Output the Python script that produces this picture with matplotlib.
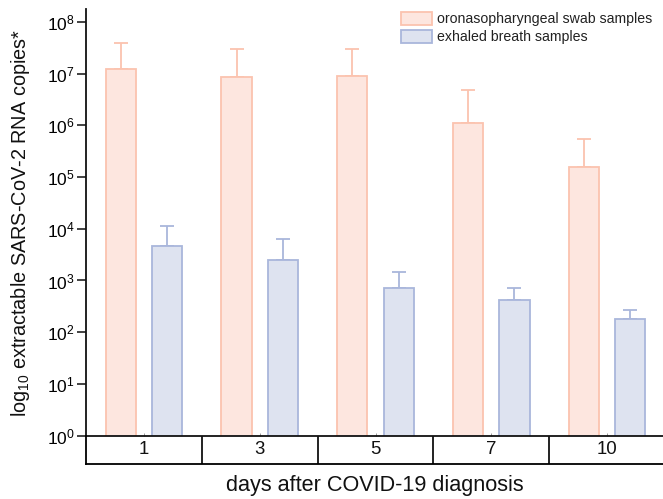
import matplotlib
matplotlib.use("Agg")
import matplotlib.pyplot as plt
import numpy as np
from matplotlib.patches import Patch

plt.rcParams['font.family'] = ['Liberation Sans', 'DejaVu Sans']
plt.rcParams['mathtext.fontset'] = 'custom'
plt.rcParams['mathtext.rm'] = 'Liberation Sans'
plt.rcParams['mathtext.it'] = 'Liberation Sans:italic'
plt.rcParams['mathtext.bf'] = 'Liberation Sans:bold'

days = ['1', '3', '5', '7', '10']
swab = [1.23e7, 8.7e6, 9.1e6, 1.13e6, 1.59e5]
swab_err_top = [4.0e7, 2.96e7, 3.0e7, 4.8e6, 5.5e5]
breath = [4.6e3, 2.45e3, 707, 414, 182]
breath_err_top = [1.15e4, 6.3e3, 1.48e3, 726, 272]
series_labels = ['oronasopharyngeal swab samples', 'exhaled breath samples']

W, H = 663, 499
fig = plt.figure(figsize=(W / 100, H / 100), dpi=100)

def px(x0, y0, x1, y1):
    return [x0 / W, 1 - y1 / H, (x1 - x0) / W, (y1 - y0) / H]

ax = fig.add_axes(px(86, 9.3, 665, 435.6))

pink_fill, pink_edge = '#FDE6DF', '#FBC3AF'
blue_fill, blue_edge = '#DEE3F0', '#A9B6DB'

x = np.arange(len(days))
off, bw = 0.2, 0.26
ax.set_yscale('log')
ax.bar(x - off, swab, width=bw, color=pink_fill, edgecolor=pink_edge, linewidth=1.3, zorder=2)
ax.bar(x + off, breath, width=bw, color=blue_fill, edgecolor=blue_edge, linewidth=1.3, zorder=2)
swab_up = np.array(swab_err_top) - np.array(swab)
breath_up = np.array(breath_err_top) - np.array(breath)
ax.errorbar(x - off, swab, yerr=[np.zeros(len(x)), swab_up], fmt='none',
            ecolor=pink_edge, elinewidth=1.3, capsize=5, capthick=1.3, zorder=1)
ax.errorbar(x + off, breath, yerr=[np.zeros(len(x)), breath_up], fmt='none',
            ecolor=blue_edge, elinewidth=1.3, capsize=5, capthick=1.3, zorder=1)

ax.set_xlim(-0.5, len(days) - 0.5)
ax.set_ylim(1, 10 ** 8.245)
ax.set_yticks([10 ** i for i in range(9)])
ax.yaxis.set_minor_locator(matplotlib.ticker.NullLocator())
ax.tick_params(axis='y', which='major', length=6.3, width=1.2, direction='out',
               labelsize=12.5, pad=2, color='#222222')
ax.set_xticks(x)
ax.set_xticklabels([])
ax.tick_params(axis='x', length=2, width=0.6, direction='in', color='#888888')
for s in ['top', 'right']:
    ax.spines[s].set_visible(False)
ax.spines['left'].set_linewidth(1.3)
ax.spines['bottom'].set_linewidth(1.3)
ax.spines['left'].set_color('#111111')
ax.spines['bottom'].set_color('#111111')

# category table below axis
tax = fig.add_axes(px(86, 435.6, 665, 464))
tax.set_xlim(-0.5, len(days) - 0.5)
tax.set_ylim(0, 1)
tax.set_xticks([])
tax.set_yticks([])
tax.set_facecolor('none')
tax.spines['top'].set_visible(False)
tax.spines['right'].set_visible(False)
tax.spines['left'].set_linewidth(1.3)
tax.spines['bottom'].set_linewidth(1.3)
for b in np.arange(0.5, len(days) - 0.5, 1.0):
    tax.axvline(b, color='#111111', linewidth=1.3)
for xi, d in zip(x, days):
    tax.text(xi, 0.5, d, ha='center', va='center', fontsize=13.4, color='#111111')

fig.text(375 / W, 1 - 486 / H, 'days after COVID-19 diagnosis', ha='center', va='center',
         fontsize=15.6, color='#111111')
fig.text(21 / W, 1 - 223 / H, r'log$_{10}$ extractable SARS-CoV-2 RNA copies*', rotation=90,
         ha='center', va='center', fontsize=14.3, color='#111111')

handles = [Patch(facecolor=pink_fill, edgecolor=pink_edge, linewidth=1.3),
           Patch(facecolor=blue_fill, edgecolor=blue_edge, linewidth=1.3)]
fig.legend(handles, series_labels, loc='upper left', bbox_to_anchor=(401 / W, 1 - 12 / H),
           frameon=False, fontsize=10.2, borderpad=0, borderaxespad=0, handlelength=2.2,
           handleheight=1.0, handletextpad=0.33, labelspacing=0.27, labelcolor='#222222')

fig.savefig('out.png', dpi=100)
